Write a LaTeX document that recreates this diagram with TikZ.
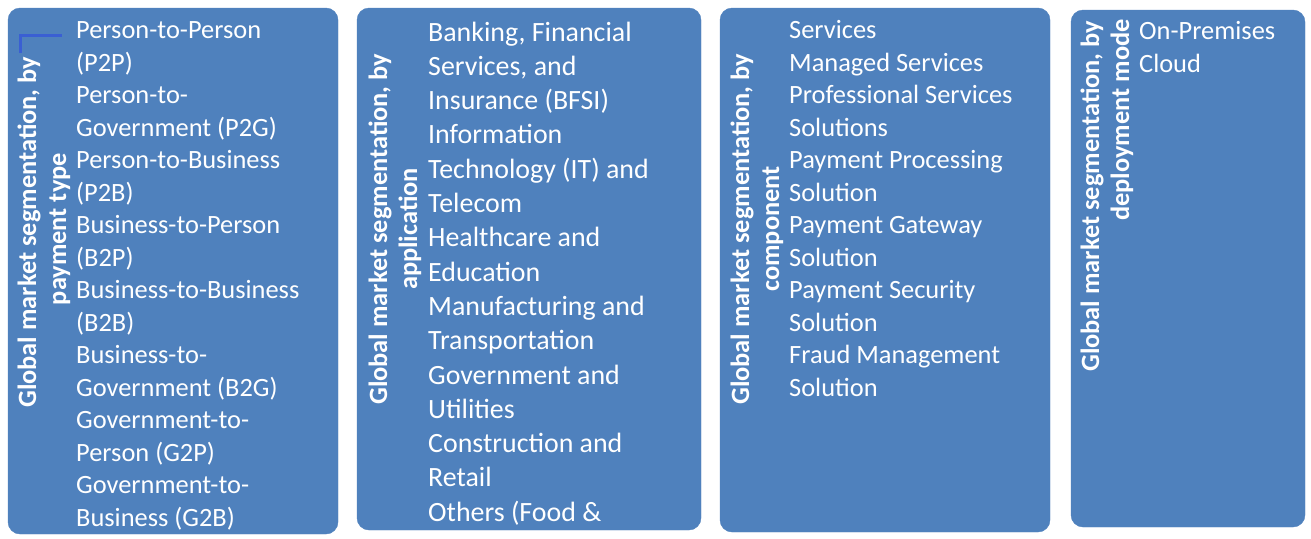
\documentclass[tikz,border=0pt]{standalone}
\usepackage{fontspec}
\setmainfont{Carlito}
\definecolor{boxblue}{HTML}{4F81BD}
\definecolor{markblue}{HTML}{3A5FD3}
\tikzset{
  panel/.style={draw=boxblue, fill=boxblue, rounded corners=12pt, inner sep=0pt},
  item/.style={text=white, inner sep=0pt, font=\fontsize{26.4}{32.5}\selectfont},
  bigitem/.style={text=white, inner sep=0pt, font=\fontsize{27.9}{34.3}\selectfont},
  vlabel/.style={text=white, inner sep=0pt, rotate=90, font=\bfseries\fontsize{26.4}{29}\selectfont}
}
\begin{document}
\begin{tikzpicture}[x=1pt,y=-1pt]
\useasboundingbox (0,0) rectangle (1311,538);
% panels
\node[panel, minimum width=330pt, minimum height=526pt] (p1) at (173,271) {};
\node[panel, minimum width=344pt, minimum height=522pt] (p2) at (529,269) {};
\node[panel, minimum width=330pt, minimum height=524pt] (p3) at (885,270) {};
\node[panel, minimum width=234pt, minimum height=517pt] (p4) at (1188,268.5) {};
% small mark
\draw[markblue, line width=2.5pt] (20.5,53) -- (20.5,35.5) -- (62,35.5);
% vertical labels
\node[vlabel, anchor=base west] (l1a) at (36,408) {Global market segmentation, by};
\node[vlabel, anchor=base] (l1b) at (66,229) {payment type};
\node[vlabel, anchor=base west] (l2a) at (387,405) {Global market segmentation, by};
\node[vlabel, anchor=base] (l2b) at (417,229) {application};
\node[vlabel, anchor=base west] (l3a) at (749,405) {Global market segmentation, by};
\node[vlabel, anchor=base] (l3b) at (779,229) {component};
\node[vlabel, anchor=base west] (l4a) at (1099,372) {Global market segmentation, by};
\node[vlabel, anchor=base east] (l4b) at (1129,19) {deployment mode};
% lists
\foreach \t [count=\i from 0] in {{Person-to-Person},{(P2P)},{Person-to-},{Government (P2G)},{Person-to-Business},{(P2B)},{Business-to-Person},{(B2P)},{Business-to-Business},{(B2B)},{Business-to-},{Government (B2G)},{Government-to-},{Person (G2P)},{Government-to-},{Business (G2B)}}
  \node[item, anchor=base west] (a\i) at (76,38.5+32.5*\i) {\t};
\foreach \t [count=\i from 0] in {{Banking, Financial},{Services, and},{Insurance (BFSI)},{Information},{Technology (IT) and},{Telecom},{Healthcare and},{Education},{Manufacturing and},{Transportation},{Government and},{Utilities},{Construction and},{Retail},{Others (Food \&}}
  \node[bigitem, anchor=base west] (b\i) at (428,41+34.3*\i) {\t};
\foreach \t [count=\i from 0] in {{Services},{Managed Services},{Professional Services},{Solutions},{Payment Processing},{Solution},{Payment Gateway},{Solution},{Payment Security},{Solution},{Fraud Management},{Solution}}
  \node[item, anchor=base west] (c\i) at (789,38.5+32.5*\i) {\t};
\foreach \t [count=\i from 0] in {{On-Premises},{Cloud}}
  \node[item, anchor=base west] (d\i) at (1139,39.5+32.5*\i) {\t};
\end{tikzpicture}
\end{document}
